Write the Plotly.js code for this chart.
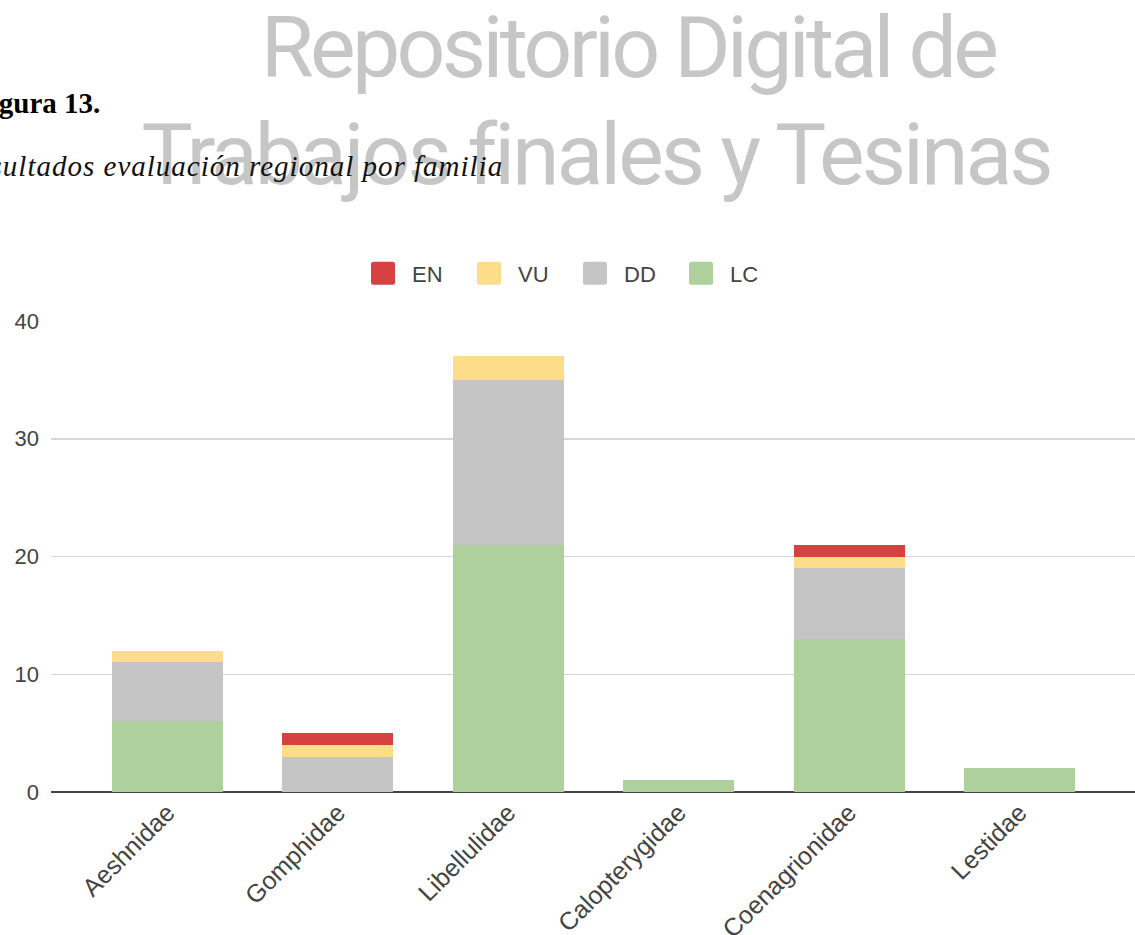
<!DOCTYPE html>
<html><head><meta charset="utf-8">
<script src="https://cdn.plot.ly/plotly-3.0.1.min.js"></script>
<style>html,body{margin:0;padding:0;background:#fff;}#chart{width:1135px;height:935px;}</style>
</head><body><div id="chart"></div>
<script>
// Data
const familias = ['Aeshnidae', 'Gomphidae', 'Libellulidae', 'Calopterygidae', 'Coenagrionidae', 'Lestidae'];
const LC = [6, 0, 21, 1, 13, 2];
const DD = [5, 3, 14, 0, 6, 0];
const VU = [1, 1, 2, 0, 1, 0];
const EN = [0, 1, 0, 0, 1, 0];
const yTicks = [0, 10, 20, 30, 40];
const seriesNames = ['LC', 'DD', 'VU', 'EN'];
const seriesColors = ['#aed09c', '#c5c5c5', '#fedd8a', '#d64141'];

const W = 1135, H = 935;
const M = {l: 51, r: 0, t: 321, b: 143};
const PW = W - M.l - M.r, PH = H - M.t - M.b;
const px2x = p => (p - M.l) / PW;
const py2y = p => (H - M.b - p) / PH;

const seriesData = [LC, DD, VU, EN];
const traces = seriesData.map((vals, i) => ({
  type: 'bar',
  name: seriesNames[i],
  x: familias,
  y: vals,
  marker: {color: seriesColors[i], line: {width: 0}, cornerradius: seriesNames[i] === 'EN' ? 4 : 0},
  hoverinfo: 'skip'
}));

const sans = 'Liberation Sans, Arial, sans-serif';
const layout = {
  width: W, height: H,
  margin: M,
  paper_bgcolor: '#ffffff', plot_bgcolor: '#ffffff',
  barmode: 'stack',
  bargap: 0.349,
  showlegend: true,
  legend: {
    orientation: 'h', traceorder: 'reversed',
    x: px2x(354), xanchor: 'left',
    y: py2y(273.5), yanchor: 'middle',
    itemwidth: 48, entrywidth: 43, entrywidthmode: 'pixels',
    font: {family: sans, size: 22, color: '#444'},
    bgcolor: 'rgba(0,0,0,0)', borderwidth: 0
  },
  xaxis: {
    type: 'category', range: [-0.684, 5.678],
    tickangle: -45, ticks: '', showgrid: false, showline: false, zeroline: false,
    tickfont: {family: sans, size: 25, color: '#444'}, fixedrange: true
  },
  yaxis: {
    range: [0, 40], tickvals: yTicks, ticktext: yTicks.map(String),
    ticks: '', showline: false,
    gridcolor: '#d6d6d6', gridwidth: 1.5,
    zeroline: true, zerolinecolor: '#444', zerolinewidth: 2,
    ticklabelstandoff: 11,
    tickfont: {family: sans, size: 22, color: '#444'}, fixedrange: true
  },
  annotations: [
    {text: 'Repositorio Digital de', xref: 'paper', yref: 'paper', x: px2x(218), y: py2y(48),
     xanchor: 'left', yanchor: 'middle', showarrow: false,
     font: {family: 'Roboto', size: 86, color: '#c6c6c6'}},
    {text: 'Trabajos finales y Tesinas', xref: 'paper', yref: 'paper', x: px2x(102), y: py2y(154),
     xanchor: 'left', yanchor: 'middle', showarrow: false,
     font: {family: 'Roboto', size: 86, color: '#c6c6c6'}},
    {text: 'Figura 13.', xref: 'paper', yref: 'paper', x: px2x(-29), y: py2y(103),
     xanchor: 'left', yanchor: 'middle', showarrow: false,
     font: {family: 'Liberation Serif, Times New Roman, serif', size: 29, color: '#000', weight: 'bold'}},
    {text: 'Resultados evaluación regional por familia', xref: 'paper', yref: 'paper', x: px2x(-24), y: py2y(166),
     xanchor: 'left', yanchor: 'middle', showarrow: false,
     font: {family: 'Liberation Serif, Times New Roman, serif', size: 29, color: '#111', style: 'italic'}}
  ]
};

Plotly.newPlot('chart', traces, layout, {staticPlot: true, displayModeBar: false}).then(gd => {
  const texts = gd.querySelectorAll('.annotation-text');
  if (texts[0]) texts[0].style.letterSpacing = '-3.7px';
  if (texts[1]) texts[1].style.letterSpacing = '-3px';
  if (texts[3]) texts[3].style.letterSpacing = '1px';
  const w = 12, h = 11.5, r = 2.5;
  const d = `M${-w + r},${-h}H${w - r}Q${w},${-h} ${w},${-h + r}V${h - r}Q${w},${h} ${w - r},${h}H${-w + r}Q${-w},${h} ${-w},${h - r}V${-h + r}Q${-w},${-h} ${-w + r},${-h}Z`;
  gd.querySelectorAll('.legend .legendpoints path').forEach(p => { p.setAttribute('d', d); p.style.strokeWidth = '0'; });
});
</script>
</body></html>
